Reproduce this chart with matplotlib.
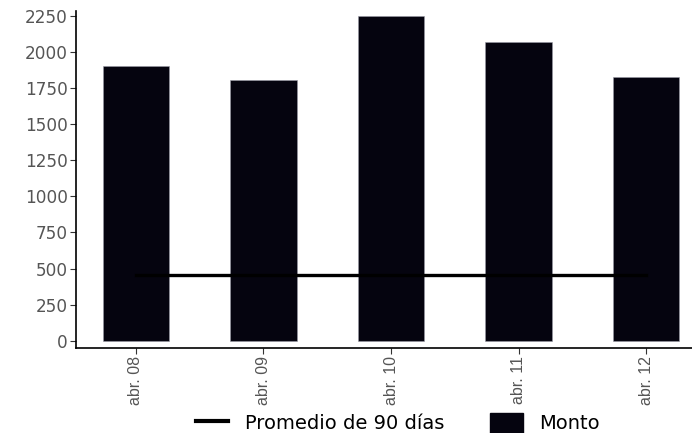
import matplotlib
matplotlib.use("Agg")
import matplotlib.pyplot as plt
from matplotlib.lines import Line2D
from matplotlib.patches import Patch
import numpy as np

categories = ["abr. 08", "abr. 09", "abr. 10", "abr. 11", "abr. 12"]
monto = [1900, 1805, 2250, 2066, 1828]
promedio_90 = [455, 455, 455, 455, 455]
y_ticks = [0, 250, 500, 750, 1000, 1250, 1500, 1750, 2000, 2250]

bar_color = "#05040f"

fig = plt.figure(figsize=(6.92, 4.33), dpi=100)
ax = fig.add_axes([76/692, (433-348)/433, (692-76)/692, (348-11)/433])

x = np.arange(len(categories))
ax.bar(x, monto, width=0.52, color=bar_color, edgecolor="#9a9aa6", linewidth=0.4, zorder=2)
ax.plot(x, promedio_90, color="black", linewidth=2.4, zorder=3)

ax.set_xlim(-0.47, 4.36)
ax.set_ylim(-50, 2283)
ax.set_yticks(y_ticks)
ax.set_yticklabels([str(v) for v in y_ticks], fontsize=12.2, color="#555555", family="DejaVu Sans")
ax.set_xticks(x)
ax.set_xticklabels(categories, rotation=90, fontsize=11.5, color="#555555",
                   family=["Liberation Sans", "DejaVu Sans"])

for s in ["top", "right"]:
    ax.spines[s].set_visible(False)
for s in ["left", "bottom"]:
    ax.spines[s].set_linewidth(1.2)
    ax.spines[s].set_color("black")
ax.tick_params(axis="both", length=4, width=0.8, color="#333333", pad=2)

handles = [Line2D([0], [0], color="black", linewidth=3),
           Patch(facecolor=bar_color, edgecolor=bar_color)]
labels = ["Promedio de 90 días", "Monto"]
fig.legend(handles, labels, loc="center", bbox_to_anchor=(398/692, (433-423)/433),
           ncol=2, frameon=False, handlelength=1.65, handleheight=1.2,
           columnspacing=2.37, handletextpad=0.88, prop={"family": "DejaVu Sans", "size": 14})

fig.savefig("out.png", dpi=100)
